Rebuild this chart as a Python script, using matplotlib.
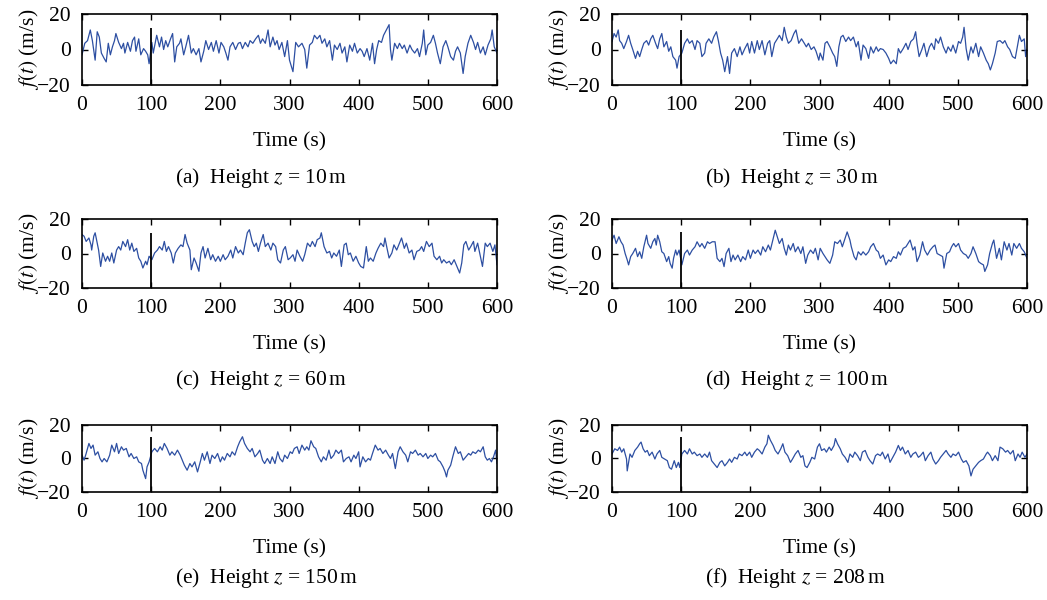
import matplotlib.pyplot as plt

plt.rcParams['font.family'] = ['Liberation Serif', 'DejaVu Serif']
plt.rcParams['mathtext.fontset'] = 'stix'
plt.rcParams['font.size'] = 15.5

## Samples (time in s, f(t) in m/s), one list per height
series_a = [(0,-3),(4,3.5),(8,5),(12,11),(15,5),(19,-6),(22,10),(25,7),(28,-2),(32,-5),(35,-7),(38,3.5),(41,-3),(44,1.5),
    (47,5),(49,9),(53,4),(57,0.5),(60,3.5),(62,-2),(66,4),(70,-1),(73,5),(76,7),(78,-1),(82,6),(85,-3),(89,0.5),(92,-1),
    (95,-3),(97,-8),(101,4),(103,-2),(108,8),(112,1.5),(115,7),(118,0),(121,5),(124,1.5),(128,6),(131,9),(134,-7),(137,1.5),
    (141,3.5),(143,6),(147,-3),(150,1.5),(154,8),(158,-2),(161,0.5),(165,-3),(169,0.5),(172,-7),(176,-1),(179,5),(183,0),
    (187,4),(190,-1),(194,5),(198,-2),(201,4),(205,1.5),(208,-2),(211,-6),(214,1.5),(218,4),(222,0),(226,3.5),(229,4),
    (232,0.5),(236,4),(240,1.5),(243,5),(247,3.5),(251,6),(255,8),(258,3.5),(261,6),(265,3.5),(269,11),(272,1.5),(276,7),
    (279,2.5),(282,5),(285,0),(289,4),(293,-4),(297,5),(300,-6),(305,-12.5),(309,4),(313,1.5),(318,3.5),(322,0),(325,-10.5),
    (329,2.5),(333,4),(336,8),(340,6),(344,8),(347,3.5),(351,6),(354,1.5),(358,5),(362,-6),(365,2.5),(369,0),(373,3.5),
    (376,-2),(380,1.5),(383,-7),(387,2.5),(391,-1),(394,3.5),(398,-2),(402,0.5),(405,-1),(408,-4),(412,0.5),(416,-6),
    (420,3.5),(423,-8),(426,0),(429,5),(433,4),(436,8),(440,11),(444,14),(446,0),(448,-6),(452,3.5),(456,0.5),(459,3.5),
    (463,0.5),(466,2.5),(470,-2),(474,2.5),(477,0),(481,-2),(485,0.5),(488,-4),(492,3.5),(494,11),(497,-3),(500,2.5),
    (504,4),(508,8),(511,3.5),(514,-2),(518,-8),(522,1.5),(526,5),(529,1.5),(533,-4),(537,-6),(540,-1),(543,1.5),(547,-2),
    (551,-13.5),(554,-4),(558,3.5),(562,8),(566,4),(569,0),(572,4),(576,-2),(580,1.5),(583,-3),(587,2.5),(591,6),(593,11),
    (596,1.5),(600,-2)]

series_b = [(0,4.5),(3,9),(6,7),(9,11),(11,5),(14,3.5),(17,0.5),(21,4.5),(24,8),(27,3.5),(30,0),(34,-5),(37,-1),(40,-4),
    (43,0),(46,3.5),(50,5),(53,2.5),(56,6),(59,8),(63,3.5),(66,0.5),(69,6),(72,9),(75,1.5),(79,4.5),(82,-1),(85,1.5),
    (88,-4),(92,-6),(94,-10.5),(97,-4),(101,-2),(105,3.5),(109,6),(112,3.5),(116,5),(120,0),(123,5),(127,3.5),(130,-4),
    (134,-2),(136,3.5),(140,6),(144,3.5),(147,7),(151,10),(154,4.5),(157,-2),(160,-6),(163,-12.5),(167,-4),(170,-13.5),
    (173,-2),(177,0.5),(181,-4),(185,1.5),(188,-3),(192,0.5),(196,3.5),(199,-2),(202,4.5),(206,-2),(210,5),(213,0),
    (217,5),(221,-3),(225,3.5),(228,5),(231,-4),(235,3.5),(239,6),(242,8),(246,5),(249,12.5),(252,7),(255,3.5),(259,5),
    (263,9),(266,11),(270,3.5),(274,6),(278,3.5),(281,1.5),(284,3.5),(288,0),(292,1.5),(295,-1),(299,-6),(301,-2),
    (305,-6),(308,3.5),(311,4.5),(315,1.5),(319,-2),(322,-4),(325,-9.5),(328,1.5),(331,7),(334,8),(338,4.5),(342,7),
    (345,5),(349,7),(353,1.5),(356,4.5),(360,-6),(363,2.5),(367,0.5),(371,-5),(374,1.5),(378,-2),(382,1.5),(385,-1),
    (388,0.5),(392,0),(396,-2),(400,-5),(403,-8),(407,-6),(411,-8),(414,0.5),(417,-2),(421,0.5),(425,3.5),(428,0),
    (432,4.5),(436,6),(439,10),(441,3.5),(444,-4),(448,0),(451,3.5),(455,-4),(459,1.5),(462,3.5),(466,0),(468,6),
    (472,3.5),(475,7),(479,1.5),(483,-2),(486,1.5),(490,-1),(493,2.5),(497,-2),(501,4.5),(504,3.5),(507,7),(509,12.5),
    (512,0.5),(515,-6),(519,1.5),(522,-2),(526,3.5),(530,-4),(533,1.5),(537,-2),(541,-6),(544,-8),(547,-11.5),(550,-8),
    (554,-2),(557,4.5),(561,5),(565,3.5),(568,5),(572,1.5),(575,0),(579,-4),(583,-5),(586,1.5),(589,8),(592,4.5),
    (596,6),(598,-4),(600,0)]

series_c = [(0,11),(3,10),(6,7),(10,9),(13,5),(14,2),(17,10),(19,12),(22,6),(24,2),(27,-7.5),(30,0.3),(34,-4.5),
    (37,-1.6),(40,-4.5),(43,0.3),(46,-5.5),(50,2),(53,4),(56,2),(59,7),(63,4),(66,8),(69,2),(72,6),(75,1.2),(79,3),
    (82,-2.6),(85,-4.5),(88,-8.4),(92,-4.5),(94,-6.5),(97,-1.6),(101,-3.6),(105,0.3),(109,2),(112,4),(116,2),(119,7),
    (122,1.2),(125,4),(129,0.3),(132,-5.5),(135,0.3),(139,3),(143,5),(146,4),(149,11),(152,6),(156,2),(158,-9.4),
    (162,-2.6),(165,-5.5),(169,-10.3),(172,0.3),(175,4),(178,-2.6),(182,3),(186,-3.6),(189,-0.7),(193,-4.5),(197,-1.6),
    (200,-4.5),(204,-0.7),(207,-3.6),(211,-1.6),(215,2),(218,-2.6),(222,4),(226,0.3),(229,2),(233,-0.7),(236,6),(239,12),
    (242,13.8),(246,7),(249,4),(252,6),(255,1.2),(258,6),(262,11),(265,4),(269,6),(273,2),(276,6),(280,4),(283,-3.6),
    (287,-5.5),(291,2),(294,4),(298,-3.6),(301,-2.6),(305,-0.7),(308,-4.5),(311,2),(315,-1.6),(319,-4.5),(322,-0.7),
    (326,6),(330,4),(333,7),(337,4),(340,8),(344,9),(346,12),(350,4),(354,0.3),(358,1.2),(361,-2.6),(364,0.3),(368,-1.6),
    (372,2),(375,-7.5),(379,5),(382,6),(385,-0.7),(388,0.3),(392,-4.5),(396,-1.6),(400,-5.5),(403,-7.5),(407,-8.4),
    (411,4),(414,-4.5),(417,-2.6),(421,-4.5),(425,0.3),(428,3),(432,6),(436,4),(438,9),(441,3),(444,-2.6),(448,0.3),
    (451,5),(455,2),(459,6),(462,9),(466,3),(469,6),(473,0.3),(477,2),(480,-3.6),(484,1.2),(488,2),(491,4),(494,1.2),
    (498,7),(502,4),(506,6),(509,-1.6),(513,-3.6),(517,-1.6),(520,-5.5),(523,-3.6),(527,-5.5),(531,-4.5),(534,-6.5),
    (538,-3.6),(542,-7.5),(546,-11.3),(549,-5.5),(552,5),(555,7),(559,2),(562,4),(566,7),(568,1.2),(572,6),(575,0.3),
    (579,-7.5),(583,6),(586,4),(590,6),(594,1.2),(597,5),(600,-6.5)]

series_d = [(0,7.8),(3,10.6),(6,5.8),(10,9.7),(13,6.8),(16,4.9),(19,0),(22,-3.7),(24,-6.6),(27,-1.8),(30,0),(34,3),
    (37,-1.8),(40,1),(43,-2.8),(46,3.9),(50,10.6),(52,5.8),(56,3),(59,6.8),(62,8.7),(64,4.9),(66,10.6),(69,6.8),(72,1),
    (75,0),(79,-4.7),(82,-1.8),(84,-5.7),(87,-8.5),(89,-2.8),(92,2),(94,-0.9),(97,2),(101,-6.6),(105,0),(109,2),
    (112,-0.9),(116,2),(120,3.9),(123,6.8),(127,3.9),(130,5.8),(134,3),(138,6.8),(141,5.8),(145,6.8),(149,6.8),
    (152,-2.8),(156,-4.7),(159,-2.8),(162,-7.6),(165,0),(169,3),(172,-4.7),(175,-0.9),(178,-3.7),(182,-0.9),(186,-4.7),
    (189,-1.8),(193,-3.7),(197,2),(200,-2.8),(204,2),(207,0),(211,2),(215,-0.9),(218,3.9),(222,1),(226,4.9),(229,2),
    (233,8.7),(236,13.5),(239,9.7),(242,5.8),(246,8.7),(249,3),(252,-0.9),(255,4.9),(258,2),(262,5.8),(265,1),(269,3.9),
    (273,0),(276,3.9),(280,-5.7),(283,-0.9),(287,2),(291,0),(294,3),(298,-3.7),(301,3),(305,0),(308,-1.8),(311,-3.7),
    (315,-5.7),(319,-0.9),(322,6.8),(326,5.8),(330,7.8),(333,3.9),(337,8.7),(340,12.5),(344,7.8),(346,3.9),(350,-1.8),
    (353,-3.7),(356,1),(360,-0.9),(363,1),(367,-0.9),(371,1),(374,3.9),(378,5.8),(382,2),(385,1),(388,-2.8),(392,-0.9),
    (396,-6.6),(400,-3.7),(403,-4.7),(407,-1.8),(411,-2.8),(414,1),(417,-0.9),(421,3),(425,3.9),(428,5.8),(431,7.8),
    (435,2),(438,3.9),(441,-4.7),(445,-0.9),(449,6.8),(452,2),(456,-0.9),(460,2),(464,3.9),(467,4.9),(470,0),(474,-0.9),
    (478,-1.8),(480,-8.5),(484,0),(488,1),(491,3.9),(494,5.8),(497,3.9),(501,5.8),(504,2),(508,0),(512,-0.9),(515,-2.8),
    (519,0),(522,3.9),(526,0),(530,-4.7),(533,-5.7),(537,-6.6),(539,-10.4),(543,-6.6),(546,0),(550,5.8),(552,7.8),
    (556,-2.8),(560,3),(563,-3.7),(567,6.8),(571,2),(574,5.8),(578,-0.9),(581,5.8),(585,3),(589,5.8),(592,3),(596,1),
    (600,-2.8)]

series_e = [(0,2),(3,-1),(6,3),(10,9),(13,6),(16,8),(19,2),(23,4),(26,0),(29,-2),(32,0),(36,-2),(40,2),(43,8),(47,4),
    (50,9),(53,3),(57,7),(60,5),(64,6),(68,1),(71,3),(75,0),(79,1),(82,-2),(86,-3),(88,-7),(92,-12),(94,-5),(97,-2),
    (101,4),(105,6),(109,4),(113,7),(116,5),(119,9),(123,6),(127,2),(130,4),(134,2),(138,5),(142,2),(145,-1),(148,-4),
    (152,-7),(156,-3),(159,-5),(163,-2),(167,-8),(171,-2),(174,3),(177,-1),(181,4),(185,-3),(188,2),(192,0),(196,3),
    (200,-2),(203,1),(206,-1),(210,3),(214,1),(217,4),(221,2),(225,7),(228,10),(232,13),(235,9),(239,6),(243,4),(246,6),
    (250,1),(254,3),(257,5),(261,-1),(264,-3),(268,0),(272,-3),(275,1),(279,-3),(283,4),(286,0),(290,-2),(293,2),(297,0),
    (301,4),(304,3),(307,6),(311,7),(314,3),(318,8),(322,5),(325,7),(328,5),(331,10.6),(335,7),(338,6),(342,1),(346,-2),
    (349,1),(353,-1),(357,5),(360,0),(364,2),(367,5),(371,3),(375,5),(378,-2),(382,0),(386,1),(389,-2),(393,2),(396,0),
    (400,4),(402,-5),(406,1),(410,-2),(414,0),(417,-1),(420,3),(424,8),(428,5),(431,6),(435,3),(439,5),(443,2),(446,0),
    (449,3),(453,-6),(457,4),(460,7),(464,4),(468,2),(471,-2),(475,4),(478,3),(482,5),(486,2),(489,3),(493,1),(497,3),
    (500,0),(504,2),(507,1),(511,3),(515,-1),(518,-2),(522,-5),(525,-8),(527,-11),(529,-7),(533,-4),(536,1),(540,7),
    (544,3),(547,4),(551,-1),(555,1),(559,3),(562,2),(565,4),(569,3),(573,5),(576,4),(580,7),(583,1),(586,-1),(589,0),
    (592,-2),(595,1),(598,5),(600,-3)]

series_f = [(0,2.7),(4,5.8),(8,4.8),(11,6.8),(14,3.8),(17,5.8),(21,-0.3),(22,-7.4),(26,2.7),(29,0.7),(33,4.8),(37,6.8),
    (40,8.8),(42,9.8),(45,5.8),(48,3.8),(51,4.8),(54,1.7),(58,3.8),(62,-0.3),(65,2.7),(69,4.8),(72,0.7),(76,-0.3),
    (80,-1.3),(83,-5.4),(86,-6.4),(90,-1.3),(93,-5.4),(96,-2.3),(98,-5.4),(101,2.7),(105,4.8),(109,2.7),(112,5.8),
    (116,2.7),(119,3.8),(123,1.7),(127,2.7),(130,0.7),(134,2.7),(138,0.7),(141,3.8),(144,-1.3),(148,-3.3),(152,-5.4),
    (156,-2.3),(159,-1.3),(163,-4.4),(167,-2.3),(170,-0.3),(173,-2.3),(177,0.7),(181,-0.3),(184,2.7),(188,1.7),(192,3.8),
    (195,1.7),(199,3.8),(202,0.7),(206,3.8),(210,5.8),(213,4.8),(217,2.7),(221,6.8),(224,8.8),(226,13.9),(229,10.9),
    (233,7.8),(236,4.8),(240,2.7),(244,5.8),(247,8.8),(250,3.8),(254,1.7),(258,-2.3),(261,-0.3),(265,2.7),(269,4.8),
    (273,0.7),(276,1.7),(279,-4.4),(282,-5.4),(286,-2.3),(289,0.7),(293,-0.3),(297,6.8),(300,8.8),(303,4.8),(307,5.8),
    (310,3.8),(314,6.8),(317,4.8),(321,7.8),(323,11.9),(326,8.8),(330,5.8),(333,2.7),(337,0.7),(341,-2.3),(344,2.7),
    (348,0.7),(351,3.8),(355,1.7),(359,-1.3),(362,3.8),(366,4.8),(370,0.7),(373,-1.3),(377,-3.3),(381,1.7),(384,2.7),
    (388,1.7),(391,3.8),(395,-0.3),(399,2.7),(402,-2.3),(406,0.7),(410,3.8),(414,7.8),(417,4.8),(420,6.8),(424,2.7),
    (428,4.8),(432,0.7),(435,2.7),(439,3.8),(443,0.7),(446,1.7),(450,3.8),(453,-1.3),(457,1.7),(461,3.8),(464,-0.3),
    (468,-3.3),(472,-1.3),(475,0.7),(479,2.7),(483,4.8),(486,2.7),(490,0.7),(493,2.7),(497,1.7),(501,3.8),(505,-0.3),
    (508,-2.3),(512,-1.3),(516,-4.4),(519,-10.4),(522,-6.4),(526,-4.4),(530,-2.3),(533,-1.3),(537,-0.3),(541,2.7),
    (543,3.8),(547,1.7),(550,-1.3),(554,1.7),(558,-1.3),(561,6.8),(565,5.8),(569,3.8),(572,4.8),(576,2.7),(580,4.8),
    (583,-1.3),(587,2.7),(590,0.7),(593,3.8),(597,0.7),(600,2.7)]

all_series = [series_a, series_b, series_c, series_d, series_e, series_f]
letters = ['a', 'b', 'c', 'd', 'e', 'f']
heights = [10, 30, 60, 100, 150, 208]
marker_t = 100
marker_top = [12, 11, 12, 12.5, 13, 13]
x_ticks = [0, 100, 200, 300, 400, 500, 600]
y_ticks = [-20, 0, 20]

W, H = 1047, 600
fig = plt.figure(figsize=(W/100, H/100), dpi=100)

col_left = [82, 612]
row_top = [14, 219, 425]
row_h = [71, 69, 67]
caption_y = [178, 380, 578]

for k, data in enumerate(all_series):
    r, c = k // 2, k % 2
    ax = fig.add_axes([col_left[c]/W, 1 - (row_top[r] + row_h[r])/H, 415/W, row_h[r]/H])
    t = [p[0] for p in data]
    f = [p[1] for p in data]
    ax.plot(t, f, color='#2d4fa2', lw=0.9)
    ax.vlines(marker_t, -20, marker_top[k], color='black', lw=1.3)
    ax.set_xlim(0, 600)
    ax.set_ylim(-20, 20)
    ax.set_xticks(x_ticks)
    ax.set_yticks(y_ticks)
    ax.tick_params(direction='in', top=True, right=True, length=4, width=1, pad=8)
    for s in ax.spines.values():
        s.set_linewidth(1.2)
    ax.set_xlabel('Time (s)', labelpad=12)
    ax.set_ylabel(r'$f(t)$ (m/s)', labelpad=-3)
    fig.text((175 + 530*c)/W, 1 - caption_y[r]/H, f'({letters[k]})  Height $z$ = {heights[k]}$\\,$m',
             ha='left', va='center')

fig.savefig('out.png', dpi=100)
